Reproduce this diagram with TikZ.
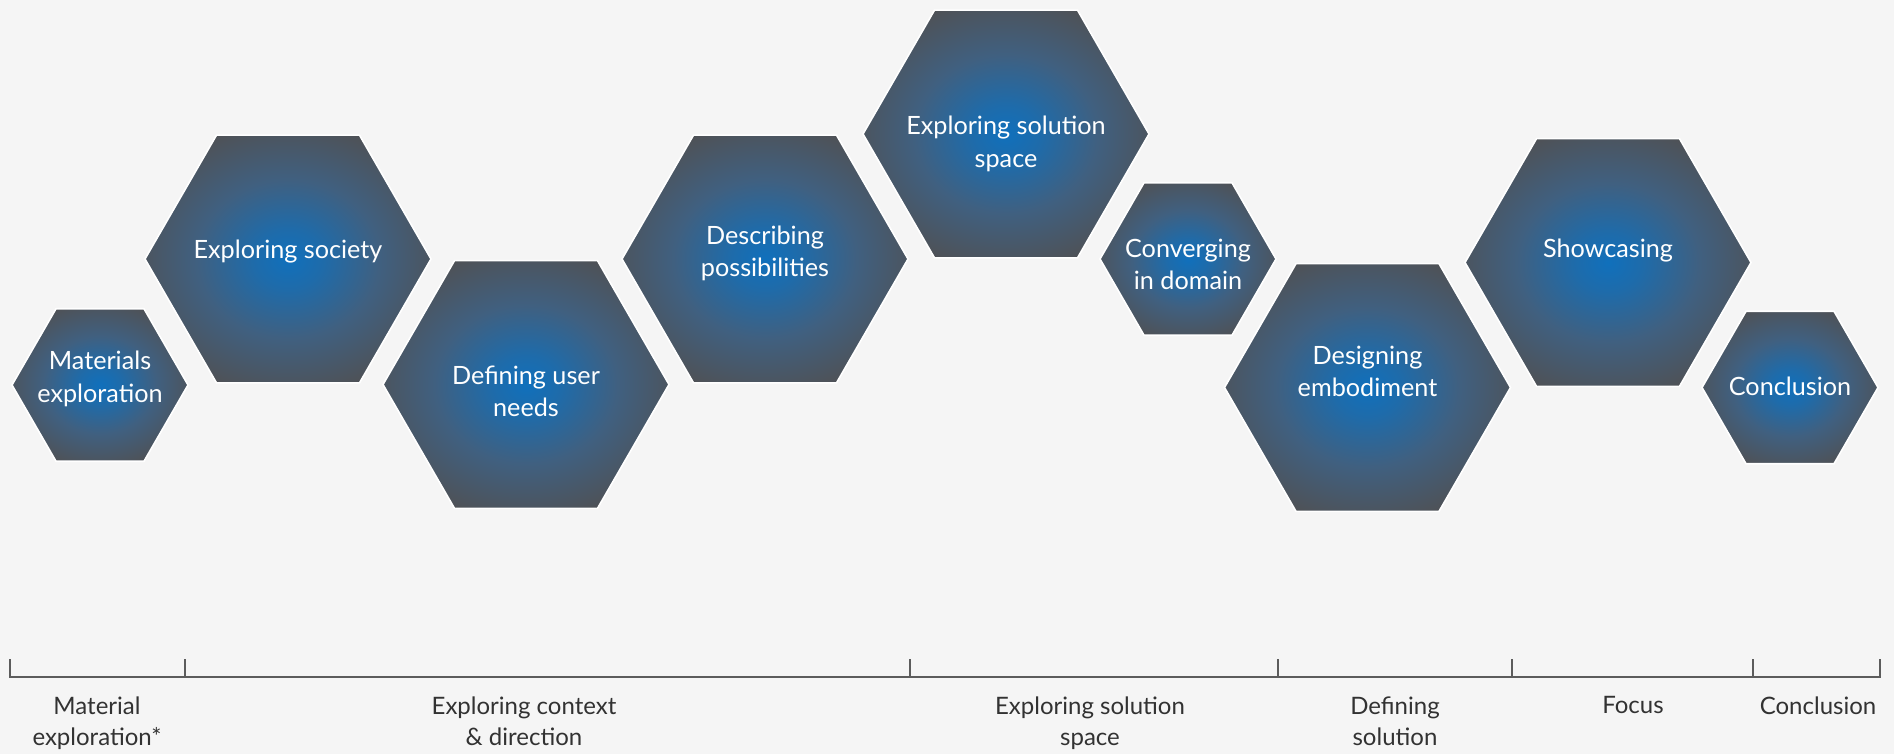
\documentclass[tikz,border=0pt]{standalone}
\usepackage{fontspec}
\setmainfont{Lato}
\usetikzlibrary{shapes.geometric}
\definecolor{hexblue}{RGB}{16,112,188}
\definecolor{hexmid}{RGB}{64,96,128}
\definecolor{hexgrey}{RGB}{80,80,82}
\definecolor{bggrey}{HTML}{F5F5F5}
\definecolor{linegrey}{RGB}{92,92,92}
\definecolor{labelgrey}{RGB}{50,50,50}
\pgfdeclareradialshading{hexglow}{\pgfpointorigin}{color(0bp)=(hexblue); color(6bp)=(hexblue!70!hexmid); color(16bp)=(hexmid); color(29bp)=(hexgrey); color(50bp)=(hexgrey)}

\begin{document}
\begin{tikzpicture}[x=0.5pt, y=-0.5pt,
        hexa/.style={regular polygon, regular polygon sides=6, inner sep=0pt, outer sep=0pt, draw=white, line width=0.8pt, shading=hexglow},
        hextext/.style={text=white, align=center, inner sep=0pt, font=\fontsize{12.6}{16.3}\selectfont},
        phase/.style={text=labelgrey, align=center, anchor=north, inner sep=0pt, font=\fontsize{12}{15.5}\selectfont}]

        % background
        \fill[bggrey] (0,0) rectangle (1894,754);

        % hexagons
        %% name/x/y/radius/text shift/text
        \foreach \name/\x/\y/\r/\dy/\txt in {
            mat/100/385/88/-6/{Materials\\exploration},
            soc/288/259/143/-7/{Exploring society},
            usr/526/384.5/143/7/{Defining user\\needs},
            pos/765/259/143/-5.5/{Describing\\possibilities},
            sol/1006/134/143/10/{Exploring solution\\space},
            dom/1188/259/88/5.5/{Converging\\in domain},
            emb/1367.5/387.5/143/-16/{Designing\\embodiment},
            show/1608/262.5/143/-11.5/{Showcasing},
            con/1790/387.5/88/-1/{Conclusion}}
        {
            \node[hexa, minimum size=\r pt] (\name) at (\x,\y) {};
            \node[hextext] (\name-txt) at (\x,\y+\dy) {\txt};
        }

        % timeline
        \coordinate (tl-start) at (10,677);
        \coordinate (tl-end) at (1880,677);
        \draw[linegrey, line width=1.2pt] (10,659) -- (tl-start) -- (tl-end) -- (1880,659);
        \foreach \x in {185,910,1278,1512,1753}
        {
            \draw[linegrey, line width=1.2pt] (\x,659) -- (\x,677);
        }

        %% phase labels
        \foreach \name/\x/\txt in {
            ph-mat/97/{Material\\exploration*},
            ph-ctx/524/{Exploring context\\\& direction},
            ph-sol/1090/{Exploring solution\\space},
            ph-def/1395/{Defining\\solution},
            ph-foc/1633/{Focus},
            ph-con/1818/{Conclusion}}
        {
            \node[phase] (\name) at (\x,696) {\txt};
        }
\end{tikzpicture}
\end{document}
